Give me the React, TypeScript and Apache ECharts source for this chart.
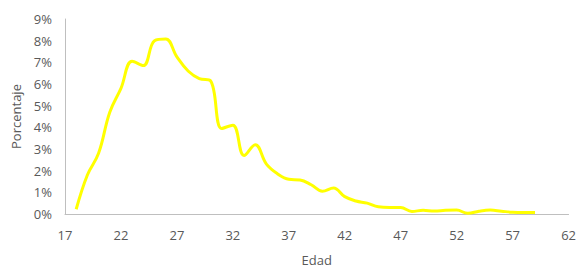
import React, { useEffect, useRef } from "react";
import * as echarts from "echarts";

const ages = [18,19,20,21,22,23,24,25,26,27,28,29,30,31,32,33,34,35,36,37,38,39,40,41,42,43,44,45,46,47,48,49,50,51,52,53,54,55,56,57,58,59];
const pct = [0.22,1.8,2.8,4.7,5.8,7.05,6.85,8.0,8.08,7.25,6.6,6.25,6.15,3.95,4.1,2.7,3.2,2.3,1.85,1.6,1.57,1.35,1.05,1.2,0.8,0.6,0.5,0.33,0.3,0.3,0.12,0.17,0.14,0.17,0.18,0.03,0.13,0.18,0.13,0.08,0.07,0.07];

export default function App() {
  const ref = useRef<HTMLDivElement>(null);
  useEffect(() => {
    const chart = echarts.init(ref.current!, null, { renderer: "svg" });
    const font = "'Open Sans', 'Liberation Sans', sans-serif";
    chart.setOption({
      animation: false,
      grid: { left: 65, right: 6, top: 19, bottom: 51 },
      xAxis: {
        type: "value", min: 17, max: 62, interval: 5,
        name: "Edad", nameLocation: "middle", nameGap: 39,
        nameTextStyle: { color: "#595959", fontSize: 13, fontFamily: font },
        axisLine: { show: true, lineStyle: { color: "#bfbfbf", width: 1 } },
        axisTick: { show: false },
        splitLine: { show: false },
        axisLabel: { color: "#595959", fontSize: 13, fontFamily: font, margin: 14 },
      },
      yAxis: {
        type: "value", min: 0, max: 9, interval: 1,
        name: "Porcentaje", nameLocation: "middle", nameGap: 40,
        nameTextStyle: { color: "#595959", fontSize: 13, fontFamily: font },
        axisLine: { show: true, lineStyle: { color: "#bfbfbf", width: 1 } },
        axisTick: { show: false },
        splitLine: { show: false },
        axisLabel: { color: "#595959", fontSize: 13, fontFamily: font, margin: 13, formatter: "{value}%" },
      },
      series: [{
        type: "line",
        data: ages.map((a, i) => [a, pct[i]]),
        smooth: 0.4,
        showSymbol: false,
        lineStyle: { color: "#ffff00", width: 3 },
      }],
    });
    return () => chart.dispose();
  }, []);
  return <div ref={ref} style={{ width: 579, height: 271, position: "absolute", left: 0, top: 0 }} />;
}
